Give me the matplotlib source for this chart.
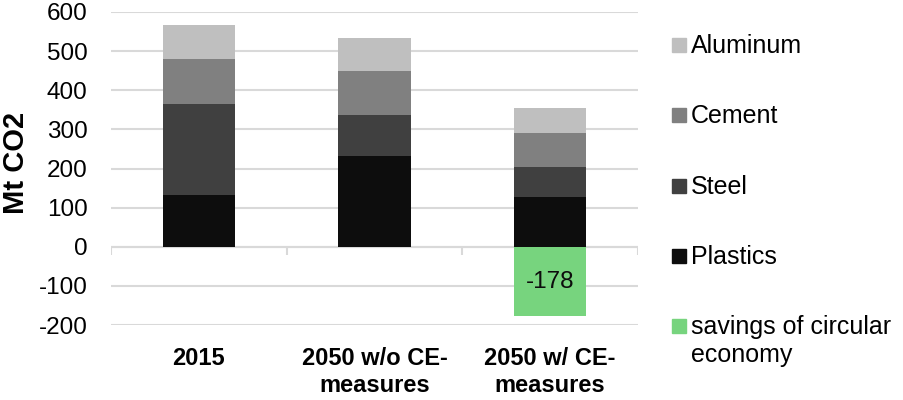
import numpy as np
import matplotlib.pyplot as plt
from matplotlib.patches import Rectangle

plt.rcParams['font.family'] = ['Liberation Sans', 'DejaVu Sans']
plt.rcParams['axes.unicode_minus'] = False

categories = ['2015', '2050 w/o CE-\nmeasures', '2050 w/ CE-\nmeasures']
plastics = [131, 231, 128]
steel = [233, 105, 75]
cement = [115, 113, 89]
aluminum = [88, 84, 62]
savings = [0, 0, -178]

series_names = ['Aluminum', 'Cement', 'Steel', 'Plastics', 'savings of circular\neconomy']
colors = ['#bfbfbf', '#808080', '#404040', '#0d0d0d', '#77d47e']

fig = plt.figure(figsize=(9.04, 4), dpi=100)
ax = fig.add_axes([111/904, 1 - 325/400, 527/904, 313/400])

x = np.arange(len(categories))
w = 0.41
bottom = np.zeros(len(categories))
# stacked from bottom: plastics, steel, cement, aluminum
for vals, col in zip([plastics, steel, cement, aluminum], colors[3::-1]):
    ax.bar(x, vals, w, bottom=bottom, color=col, zorder=3)
    bottom += np.array(vals)

sav_bars = ax.bar(x, savings, w, color=colors[4], zorder=3)
for b, v in zip(sav_bars, savings):
    if v != 0:
        ax.text(b.get_x() + b.get_width()/2, v/2, str(v), ha='center', va='center',
                fontsize=17.5, color='#0d0d0d', zorder=4)

ax.set_ylim(-200, 600)
ax.set_xlim(-0.5, len(categories) - 0.5)
ax.set_yticks(np.arange(-200, 601, 100))
ax.yaxis.grid(True, color='#d9d9d9', linewidth=1.5, zorder=0)
ax.axhline(0, color='#d9d9d9', linewidth=1.5, zorder=1)
# little tick marks on the zero line between categories
ax.vlines(np.arange(-0.5, len(categories)), -22, 0, color='#d9d9d9', linewidth=1.5, zorder=1)

for s in ax.spines.values():
    s.set_visible(False)
ax.tick_params(axis='y', length=0, pad=17, labelsize=17.5)
ax.tick_params(axis='x', length=0, pad=16)
ax.set_xticks(x)
ax.set_xticklabels(categories, fontsize=17, fontweight='bold', linespacing=1.2)

fig.text(16/904, 1 - 163/400, 'Mt CO2', rotation=90, ha='center', va='center',
         fontsize=21, fontweight='bold')

# legend
for i, (name, col) in enumerate(zip(series_names, colors)):
    yc = 1 - (45 + 70.3*i)/400
    fig.patches.append(Rectangle((672/904, yc - 7/400), 14/904, 14/400,
                                 transform=fig.transFigure, color=col))
    fig.text(691/904, yc + 11/400, name, ha='left', va='top', fontsize=18, linespacing=1.2)

fig.savefig('out.png', dpi=100)
